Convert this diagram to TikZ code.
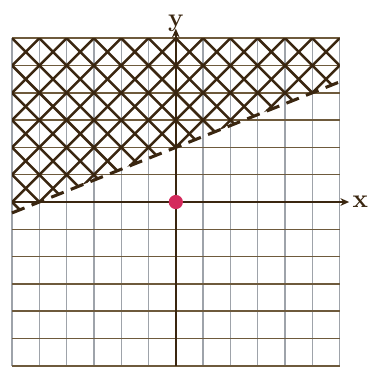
\documentclass[tikz,border=0pt]{standalone}
\usepackage{tikz}
\usetikzlibrary{
  arrows.meta,
  positioning
}
\definecolor{PlotBrown}{HTML}{3A2610}
\definecolor{GridBrown}{HTML}{6E5A3C}
\definecolor{GridGray}{HTML}{9EA3AA}
\definecolor{DotRed}{HTML}{D42A5C}

\begin{document}
\begin{tikzpicture}[
  x=1cm,y=1cm,
  hgrid/.style={draw=GridBrown,line width=1.6pt},
  vgrid/.style={draw=GridGray,line width=1.3pt},
  hatch/.style={draw=PlotBrown,line width=2.6pt},
  boundary/.style={draw=PlotBrown,line width=3.2pt,
    dash pattern=on 14pt off 8pt},
  axis/.style={-{Stealth[length=3.2mm,width=2.8mm]},draw=PlotBrown,
    line width=2pt},
  lab/.style={font=\bfseries\fontsize{27}{30}\selectfont,text=PlotBrown},
  point/.style={circle,fill=DotRed,minimum size=5.2mm,inner sep=0pt}
]
\useasboundingbox (-6.44,-6.08) rectangle (7.04,7.40);

% grid
\foreach \k in {-6,...,6} {
  \draw[vgrid] (\k,-6) -- (\k,6);
}
\foreach \k in {-6,...,6} {
  \draw[hgrid] (-6,\k) -- (6,\k);
}

% shaded half-plane above the line
\begin{scope}
  \clip (-6,-0.4) -- (6,4.4) -- (6,6) -- (-6,6) -- cycle;
  \foreach \k in {-18,...,6} {
    \draw[hatch] (\k,-6) -- ++(12,12);
  }
  \foreach \k in {-6,...,18} {
    \draw[hatch] (\k,-6) -- ++(-12,12);
  }
\end{scope}

% boundary line
\coordinate (lineA) at (-6,-0.4);
\coordinate (lineB) at (6,4.4);
\draw[boundary] (lineA) -- (lineB);

% axes
\coordinate (xstart) at (-6,0);
\coordinate (xend) at (6.35,0);
\coordinate (ystart) at (0,-6);
\coordinate (yend) at (0,6.35);
\draw[axis] (xstart) -- (xend);
\draw[axis] (ystart) -- (yend);
\node[lab,right=0mm of xend] (xlab) {x};
\node[lab,above=-2.2mm of yend] (ylab) {y};

\node[point] (origin) at (0,0) {};
\end{tikzpicture}
\end{document}
